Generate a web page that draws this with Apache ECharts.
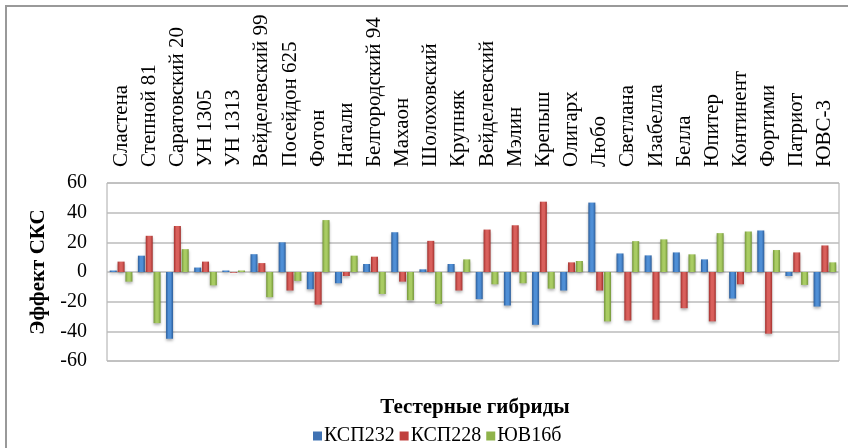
<!DOCTYPE html>
<html lang="ru">
<head>
<meta charset="UTF-8" />
<title>Эффект СКС</title>
<style>
  html, body { margin: 0; padding: 0; background: #fff; }
  #chart { width: 848px; height: 448px; }
</style>
</head>
<body>
<div id="chart"></div>
<script src="https://cdn.jsdelivr.net/npm/echarts@6/dist/echarts.min.js"></script>
<script>
  // Тестерные гибриды
  const categories = ['Сластена', 'Степной 81', 'Саратовский 20', 'УН 1305', 'УН 1313',
    'Вейделевский 99', 'Посейдон 625', 'Фотон', 'Натали', 'Белгородский 94', 'Махаон',
    'Шолоховский', 'Крупняк', 'Вейделевский', 'Мэлин', 'Крепыш', 'Олигарх', 'Любо',
    'Светлана', 'Изабелла', 'Белла', 'Юпитер', 'Континент', 'Фортими', 'Патриот', 'ЮВС-3'];

  const ksp232 = [1, 11, -45, 3, 1, 12, 20, -11.6, -7.6, 5.4, 26.8, 1.8, 5.4, -18.3, -22.6,
    -35.6, -12.5, 46.8, 12.5, 11.2, 13.2, 8.5, -17.9, 28, -2.7, -23.3];
  const ksp228 = [7, 24.4, 31, 7, -0.5, 6, -12.5, -22, -2.7, 10.3, -6.5, 21, -12.5, 28.6, 31.5,
    47.4, 6.5, -12.5, -32.7, -32.2, -24.4, -33.3, -8.3, -41.6, 13.2, 17.9];
  const yv16b = [-6.5, -34.5, 15.4, -9, 1, -17, -6, 35, 11, -14.8, -19, -21.5, 8.5, -8.3, -7.6,
    -11.2, 7.4, -33.3, 20.8, 22, 11.9, 26.2, 27.3, 14.8, -8.7, 6.5];

  const yTicks = [-60, -40, -20, 0, 20, 40, 60];

  const font = 'Liberation Serif';

  // объёмная заливка как у столбиков Excel
  function bevel(dark, light) {
    return new echarts.graphic.LinearGradient(0, 0, 1, 0, [
      { offset: 0, color: dark },
      { offset: 0.35, color: light },
      { offset: 0.65, color: light },
      { offset: 1, color: dark }
    ]);
  }

  function barSeries(name, data, dark, light) {
    return {
      name: name,
      type: 'bar',
      data: data,
      barWidth: 7,
      barGap: '12%',
      itemStyle: {
        color: bevel(dark, light),
        shadowColor: 'rgba(0,0,0,0.3)',
        shadowBlur: 3,
        shadowOffsetY: 2
      }
    };
  }

  const chart = echarts.init(document.getElementById('chart'));

  const option = {
    animation: false,
    backgroundColor: '#fff',
    textStyle: { fontFamily: font, color: '#000' },
    grid: {
      left: 107, right: 9, top: 183, bottom: 87,
      show: true, borderColor: '#aaa', borderWidth: 1
    },
    legend: {
      left: 308, top: 421,
      itemWidth: 9, itemHeight: 9, itemGap: 5,
      textStyle: { fontFamily: font, fontSize: 20, color: '#000', padding: [0, 0, 0, -3] },
      data: [
        { name: 'КСП232', icon: 'rect', itemStyle: { color: '#3f72b3' } },
        { name: 'КСП228', icon: 'rect', itemStyle: { color: '#c0403d' } },
        { name: 'ЮВ16б', icon: 'rect', itemStyle: { color: '#8fb34a' } }
      ]
    },
    graphic: [
      {
        type: 'rect', silent: true,
        shape: { x: 6, y: 6, width: 900, height: 500 },
        style: { fill: 'none', stroke: '#999', lineWidth: 2 }
      },
      {
        type: 'text', silent: true,
        x: 475, y: 408,
        style: {
          text: 'Тестерные гибриды', fontFamily: font, fontSize: 21, fontWeight: 'bold',
          fill: '#000', align: 'center', verticalAlign: 'middle'
        }
      }
    ],
    xAxis: {
      type: 'category',
      position: 'top',
      data: categories,
      axisLine: { show: false },
      axisTick: { show: false },
      splitLine: { show: false },
      axisLabel: {
        rotate: 90, interval: 0, margin: 16,
        fontFamily: font, fontSize: 21, color: '#000'
      }
    },
    yAxis: {
      type: 'value',
      min: yTicks[0], max: yTicks[yTicks.length - 1], interval: 20,
      name: 'Эффект СКС',
      nameLocation: 'middle',
      nameRotate: 90,
      nameGap: 48,
      nameTextStyle: { fontFamily: font, fontSize: 21, fontWeight: 'bold', color: '#000' },
      axisLine: { show: false },
      axisTick: { show: false },
      axisLabel: { fontFamily: font, fontSize: 20, color: '#000', margin: 20 },
      splitLine: { lineStyle: { color: '#bbb', width: 1.5 } }
    },
    series: [
      barSeries('КСП232', ksp232, '#2c5d9a', '#4f8fd6'),
      barSeries('КСП228', ksp228, '#a3302d', '#d9605c'),
      barSeries('ЮВ16б', yv16b, '#74963a', '#a9cc63')
    ]
  };

  chart.setOption(option);
</script>
</body>
</html>
